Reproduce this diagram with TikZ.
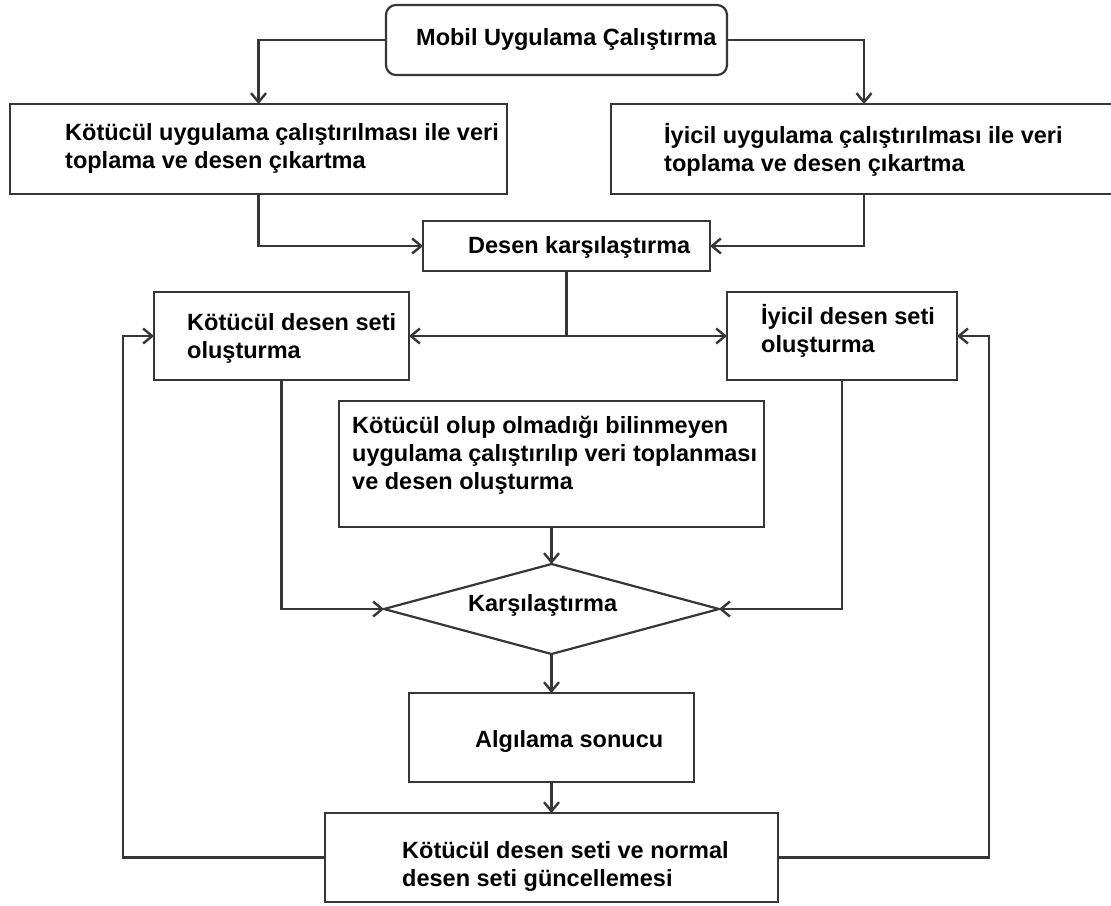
\documentclass[tikz,border=0pt]{standalone}
\usepackage{fontspec}
\setmainfont{Liberation Sans}
\usetikzlibrary{arrows.meta,shapes.geometric}
\definecolor{edge}{HTML}{363636}
\begin{document}
\begin{tikzpicture}[x=1pt,y=-1pt,
  box/.style={draw=edge, line width=2.2pt, rectangle, inner sep=0pt, outer sep=0pt},
  % multi-line labels are placed by the baseline of their last line
  txt/.style={anchor=base west, inner sep=0pt, align=left,
              font=\fontsize{23.5}{28}\selectfont\bfseries, text=black},
  link/.style={draw=edge, line width=2.2pt},
  arr/.style={link, -{Straight Barb[length=9pt,width=15pt,line width=2.4pt]}}]
\useasboundingbox[fill=white] (0,0) rectangle (1111,905);

% process boxes
\node[box, rounded corners=10pt, minimum width=341pt, minimum height=70pt] (start) at (556.5,40) {};
\node[box, minimum width=497pt, minimum height=90pt] (malrun) at (258.5,149) {};
\node[box, minimum width=506pt, minimum height=90pt] (benrun) at (864,149) {};
\node[box, minimum width=287pt, minimum height=50pt] (compare) at (566.5,246) {};
\node[box, minimum width=255pt, minimum height=88pt] (malset) at (281.5,336) {};
\node[box, minimum width=230pt, minimum height=88pt] (benset) at (842,336) {};
\node[box, minimum width=425pt, minimum height=126pt] (unknown) at (551.5,464) {};
\node[draw=edge, line width=2.2pt, diamond, inner sep=0pt, outer sep=0pt,
      minimum width=335pt, minimum height=90pt] (match) at (551.5,609) {};
\node[box, minimum width=285pt, minimum height=89pt] (result) at (551.5,737.5) {};
\node[box, minimum width=453pt, minimum height=89pt] (update) at (551.5,857.5) {};

% labels
\node[txt] (l-start) at (416,45) {Mobil Uygulama Çalıştırma};
\node[txt] (l-malrun) at (65,168) {Kötücül uygulama çalıştırılması ile veri\\toplama ve desen çıkartma};
\node[txt] (l-benrun) at (664,171) {İyicil uygulama çalıştırılması ile veri\\toplama ve desen çıkartma};
\node[txt] (l-compare) at (468,253) {Desen karşılaştırma};
\node[txt] (l-malset) at (187,358) {Kötücül desen seti\\oluşturma};
\node[txt] (l-benset) at (761,352) {İyicil desen seti\\oluşturma};
\node[txt] (l-unknown) at (352,489) {Kötücül olup olmadığı bilinmeyen\\uygulama çalıştırılıp veri toplanması\\ve desen oluşturma};
\node[txt] (l-match) at (468,611) {Karşılaştırma};
\node[txt] (l-result) at (475,747) {Algılama sonucu};
\node[txt] (l-update) at (402,886) {Kötücül desen seti ve normal\\desen seti güncellemesi};

% connectors
\coordinate (split) at (compare.south |- malset.east);
\coordinate (loopL) at (123,336);
\coordinate (loopR) at (989,336);

\draw[arr] (start.west) -| (malrun.north);
\draw[arr] (start.east) -| (benrun.north);
\draw[arr] (malrun.south) |- (compare.west);
\draw[arr] (benrun.south) |- (compare.east);
\draw[link] (compare.south) -- (split);
\draw[arr] (split) -- (malset.east);
\draw[arr] (split) -- (benset.west);
\draw[arr] (malset.south) |- (match.west);
\draw[arr] (benset.south) |- (match.east);
\draw[arr] (unknown.south) -- (match.north);
\draw[arr] (match.south) -- (result.north);
\draw[arr] (result.south) -- (update.north);
\draw[arr] (update.west) -| (loopL) -- (malset.west);
\draw[arr] (update.east) -| (loopR) -- (benset.east);
\end{tikzpicture}
\end{document}
